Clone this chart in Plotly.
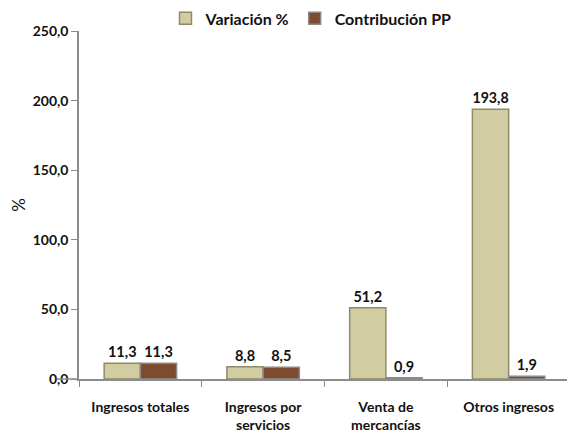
import plotly.graph_objects as go

categories = ["Ingresos totales", "Ingresos por<br>servicios", "Venta de<br>mercancías", "Otros ingresos"]
variacion = [11.3, 8.8, 51.2, 193.8]
contribucion = [11.3, 8.5, 0.9, 1.9]
y_ticks = [0, 50, 100, 150, 200, 250]

FONT = "Lato"
AXIS = "#8c8c8c"

fig = go.Figure()
fig.add_trace(go.Bar(
    x=categories, y=variacion, name="Variación %",
    marker=dict(color="#d2cca2", line=dict(color="#8f8a68", width=1.5)),
    text=[f"{v:.1f}".replace(".", ",") for v in variacion],
    textposition="outside", cliponaxis=False,
    textfont=dict(family=FONT, size=14.5, color="#111111", weight="bold"),
))
fig.add_trace(go.Bar(
    x=categories, y=contribucion, name="Contribución PP",
    marker=dict(color="#7c4b30", line=dict(color="#8a8a8a", width=1.5)),
    text=[f"{v:.1f}".replace(".", ",") for v in contribucion],
    textposition="outside", cliponaxis=False,
    textfont=dict(family=FONT, size=14.5, color="#111111", weight="bold"),
))

# x axis line runs a little to the left of the y axis
fig.add_shape(type="line", xref="paper", yref="paper", x0=-0.045, x1=0, y0=0, y1=0,
              line=dict(color=AXIS, width=1.5))

fig.update_layout(
    width=575, height=438,
    paper_bgcolor="white", plot_bgcolor="white",
    font=dict(family=FONT, size=14, color="#111111"),
    margin=dict(l=71, r=13, t=23, b=67, autoexpand=False),
    separators=",.",
    barmode="group", bargap=0.41, bargroupgap=0,
    showlegend=True,
    legend=dict(orientation="h", x=0.4725, xanchor="center", y=1.036, yanchor="middle",
                font=dict(family=FONT, size=16, color="#111111", weight="bold"),
                itemwidth=30, traceorder="normal"),
    xaxis=dict(showline=True, linecolor=AXIS, linewidth=1.5, showgrid=False,
               ticks="outside", tickson="boundaries", ticklen=6, tickcolor=AXIS,
               ticklabelstandoff=14,
               tickfont=dict(family=FONT, size=14, weight="bold")),
    yaxis=dict(range=[0, 250], tickvals=y_ticks, tickformat=".1f",
               showline=True, linecolor=AXIS, linewidth=1.5, showgrid=False,
               zeroline=False, ticks="outside", ticklen=6, tickcolor=AXIS,
               tickfont=dict(family=FONT, size=14, weight="bold"),
               title=dict(text="%", font=dict(family=FONT, size=17), standoff=12)),
)

fig.write_html("out.html")
